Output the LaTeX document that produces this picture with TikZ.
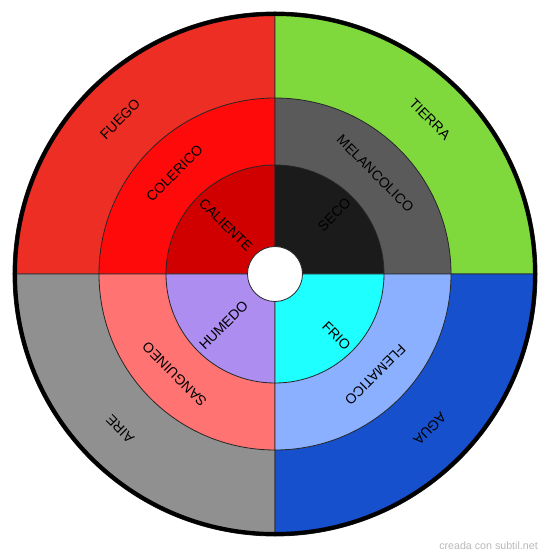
\documentclass[tikz,border=0pt]{standalone}
\usepackage{fontspec}
\setmainfont{Liberation Sans}
\definecolor{fuego}{RGB}{236,46,36}
\definecolor{tierra}{RGB}{127,217,61}
\definecolor{aire}{RGB}{144,144,144}
\definecolor{agua}{RGB}{22,80,204}
\definecolor{colerico}{RGB}{255,10,10}
\definecolor{melancolico}{RGB}{90,90,90}
\definecolor{sanguineo}{RGB}{255,115,115}
\definecolor{flematico}{RGB}{138,176,255}
\definecolor{caliente}{RGB}{208,0,0}
\definecolor{seco}{RGB}{27,27,27}
\definecolor{humedo}{RGB}{173,142,240}
\definecolor{frio}{RGB}{30,255,255}
\definecolor{markgray}{RGB}{185,185,185}
\tikzset{
  sector/.style={draw=black!85, line width=0.6pt},
  ringtext/.style={font=\fontsize{10.5}{12}\selectfont, text=black,
                   inner sep=0pt},
  marktext/.style={font=\fontsize{8}{9}\selectfont, text=markgray,
                   inner sep=0pt, anchor=east}
}

\begin{document}
\begin{tikzpicture}[x=0.75pt, y=0.75pt]
  \useasboundingbox (-275,-285) rectangle (275,274);

  % outer ring: elements
  \foreach \ang/\col in {135/fuego, 45/tierra, 225/aire, 315/agua} {
    \filldraw[sector, fill=\col] (0,0) -- (\ang-45:262)
      arc[start angle=\ang-45, end angle=\ang+45, radius=262] -- cycle;
  }
  % middle ring: temperaments
  \foreach \ang/\col in {135/colerico, 45/melancolico, 225/sanguineo, 315/flematico} {
    \filldraw[sector, fill=\col] (0,0) -- (\ang-45:176)
      arc[start angle=\ang-45, end angle=\ang+45, radius=176] -- cycle;
  }
  % inner ring: qualities
  \foreach \ang/\col in {135/caliente, 45/seco, 225/humedo, 315/frio} {
    \filldraw[sector, fill=\col] (0,0) -- (\ang-45:109)
      arc[start angle=\ang-45, end angle=\ang+45, radius=109] -- cycle;
  }
  \filldraw[sector, fill=white] (0,0) circle (27.5);
  \draw[black, line width=3pt] (0,0) circle (260);

  % labels along the rings
  \foreach \ang/\name in {135/FUEGO, 45/TIERRA, 225/AIRE, 315/AGUA} {
    \node[ringtext, rotate=\ang-90] (\name) at (\ang:219) {\name};
  }
  \foreach \ang/\name in {135/COLERICO, 45/MELANCOLICO, 225/SANGUINEO, 315/FLEMATICO} {
    \node[ringtext, rotate=\ang-90] (\name) at (\ang:142) {\name};
  }
  % radial labels, written from the outer edge
  \node[ringtext, rotate=-45, anchor=west] (CALIENTE) at (135:104) {CALIENTE};
  \node[ringtext, rotate=45, anchor=west] (HUMEDO) at (225:104) {HUMEDO};
  \node[ringtext, rotate=45, anchor=east] (SECO) at (45:104) {SECO};
  \node[ringtext, rotate=-45, anchor=east] (FRIO) at (315:104) {FRIO};

  \node[marktext] (credit) at (263,-272) {creada con subtil.net};
\end{tikzpicture}
\end{document}
